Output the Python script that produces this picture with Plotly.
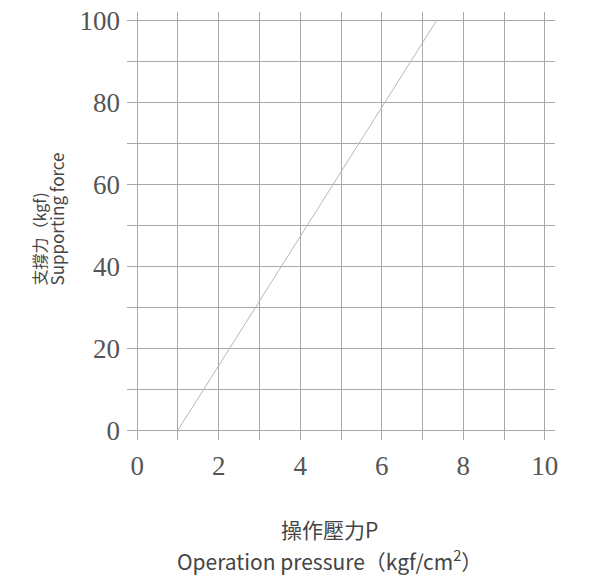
import plotly.graph_objects as go

pressure = [1.0, 7.35]
force = [0, 100]

x_ticks = [0, 2, 4, 6, 8, 10]
y_ticks = [0, 20, 40, 60, 80, 100]

x_title_cn = "操作壓力P"
x_title_en = "Operation pressure（kgf/cm<sup>2</sup>）"
y_title_cn = "支撐力（kgf)"
y_title_en = "Supporting force"

fig = go.Figure()
fig.add_trace(go.Scatter(x=pressure, y=force, mode="lines",
                         line=dict(color="#b8b8b8", width=1), showlegend=False))

grid_c = "#a8a8a8"
tick_font = dict(family="Liberation Serif, DejaVu Serif, serif", size=27, color="#555555")
title_family = "Noto Sans CJK TC, Noto Sans, sans-serif"

fig.update_xaxes(range=[-0.25, 10.25], tickvals=x_ticks, showgrid=True, gridcolor=grid_c, gridwidth=1,
                 minor=dict(dtick=1, tick0=0, showgrid=True, gridcolor=grid_c, gridwidth=1),
                 zeroline=False, showline=False, tickfont=tick_font, ticks="", ticklen=0,
                 ticklabelstandoff=7, automargin=False, ticklabeloverflow="allow")
fig.update_yaxes(range=[-2.4, 102], tickvals=y_ticks, showgrid=True, gridcolor=grid_c, gridwidth=1,
                 minor=dict(dtick=10, tick0=0, showgrid=True, gridcolor=grid_c, gridwidth=1),
                 zeroline=False, showline=False, tickfont=tick_font, ticks="", ticklen=0,
                 ticklabelstandoff=6, automargin=False, ticklabeloverflow="allow")

title_color = "#444444"
fig.add_annotation(text=x_title_cn, xref="paper", yref="paper", x=0.474, y=-0.208,
                   xanchor="center", yanchor="middle", showarrow=False,
                   font=dict(family=title_family, size=21, color=title_color))
fig.add_annotation(text=x_title_en, xref="paper", yref="paper", x=0.474, y=-0.280,
                   xanchor="center", yanchor="middle", showarrow=False,
                   font=dict(family=title_family, size=21, color=title_color))
fig.add_annotation(text=y_title_cn, xref="paper", yref="paper", x=-0.2033, y=0.3575,
                   xanchor="center", yanchor="bottom", showarrow=False, textangle=-90,
                   font=dict(family=title_family, size=16, color=title_color))
fig.add_annotation(text=y_title_en, xref="paper", yref="paper", x=-0.1659, y=0.3575,
                   xanchor="center", yanchor="bottom", showarrow=False, textangle=-90,
                   font=dict(family=title_family, size=17, color=title_color))

fig.update_layout(width=584, height=567, margin=dict(l=119, r=37, t=4, b=135),
                  plot_bgcolor="white", paper_bgcolor="white")

fig.write_html("out.html")
